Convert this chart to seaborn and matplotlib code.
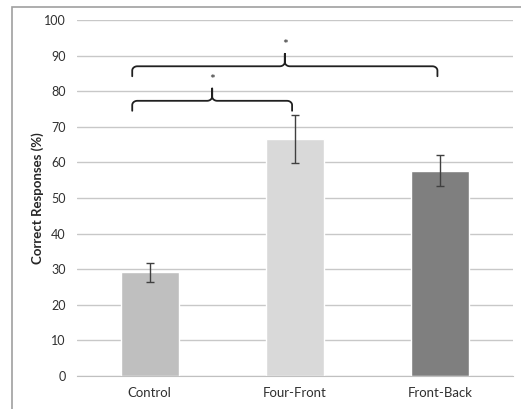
import numpy as np
import pandas as pd
import matplotlib
matplotlib.use("Agg")
import matplotlib.pyplot as plt
import seaborn as sns
from matplotlib.patches import Rectangle

# data
conditions = ["Control", "Four-Front", "Front-Back"]
means = [29.1, 66.6, 57.7]
errors = [2.6, 6.7, 4.4]
bar_colors = ["#bfbfbf", "#d9d9d9", "#7f7f7f"]

# significance brackets: (start group, end group, peak position, bracket height)
brackets = [(0, 1, 0.43, 77.3), (0, 2, 0.93, 87.0)]

df = pd.DataFrame({"Condition": conditions, "Mean": means})

sns.set_style("white")
plt.rcParams["font.family"] = ["Lato", "DejaVu Sans"]

fig = plt.figure(figsize=(5.21, 4.09), dpi=100)
ax = fig.add_axes([77 / 521, 1 - 376 / 409, 436 / 521, 356 / 409])

sns.barplot(data=df, x="Condition", y="Mean", hue="Condition",
            palette=bar_colors, width=0.4, legend=False, ax=ax, errorbar=None)
ax.errorbar(range(len(conditions)), means, yerr=errors, fmt="none",
            ecolor="#404040", elinewidth=1, capsize=3, capthick=1, zorder=5)


# curly bracket with rounded corners
def bracket(x0, x1, xm, y, ax, drop=2.8, rise=3.5, r=0.035, ry=1.2):
    t = np.linspace(0, np.pi / 2, 12)
    xs = [x0, x0]
    ys = [y - drop, y - ry]
    xs += list(x0 + r - r * np.cos(t))
    ys += list(y - ry + ry * np.sin(t))
    xs += list(xm - r + r * np.sin(t))
    ys += list(y + ry - ry * np.cos(t))
    xs += [xm, xm]
    ys += [y + rise, y + ry]
    xs += list(xm + r - r * np.cos(t))
    ys += list(y + ry - ry * np.sin(t))
    xs += list(x1 - r + r * np.sin(t))
    ys += list(y - ry + ry * np.cos(t))
    xs += [x1]
    ys += [y - drop]
    ax.plot(xs, ys, color="#202020", lw=1.3, zorder=6)
    ax.text(xm, y + rise + 0.8, "*", ha="center", va="bottom", fontsize=10)


for g0, g1, peak, h in brackets:
    bracket(g0 - 0.12, g1 - 0.02, peak, h, ax)

ax.set_ylim(0, 100)
ax.set_xlim(-0.5, 2.5)
ax.set_yticks(range(0, 101, 10))
ax.yaxis.grid(True, color="#c8c8c8", lw=1)
ax.set_axisbelow(True)
for s in ["top", "right", "left"]:
    ax.spines[s].set_visible(False)
ax.spines["bottom"].set_color("#c0c0c0")
ax.tick_params(axis="x", length=0, labelsize=9.5, colors="#303030", pad=8)
ax.tick_params(axis="y", length=0, labelsize=9, colors="#303030", pad=8)
ax.set_xlabel("")
ax.set_ylabel("Correct Responses (%)", fontsize=9.5, fontweight="bold", labelpad=0)

fig.patches.append(Rectangle((12 / 521, -0.01), 1.0, 1 - 7 / 409 + 0.01,
                             transform=fig.transFigure, fill=False,
                             edgecolor="#a0a0a0", lw=1.2))

fig.savefig("out.png", dpi=100)
